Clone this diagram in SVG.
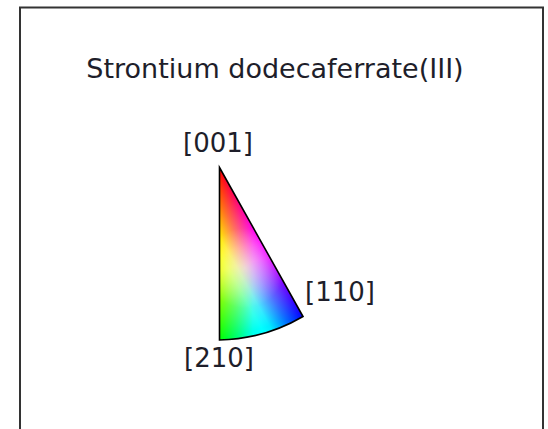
<svg xmlns="http://www.w3.org/2000/svg" width="548" height="429" viewBox="0 0 548 429">
<style>
.t{font-family:"DejaVu Sans","Liberation Sans",sans-serif;fill:#1e1e2a;}
.scr{mix-blend-mode:screen;}
</style>
<defs>
<clipPath id="tri"><path d="M219.5,167.5 L303,316.5 A172,172 0 0 1 219.5,340 Z"/></clipPath>
<linearGradient id="gR" gradientUnits="userSpaceOnUse" x1="264.5" y1="327.3" x2="219.5" y2="167.5">
<stop offset="0" stop-color="#000"/><stop offset="0.2" stop-color="rgb(110,0,0)"/><stop offset="0.4" stop-color="rgb(235,0,0)"/><stop offset="0.5" stop-color="#f00"/><stop offset="1" stop-color="#f00"/>
</linearGradient>
<linearGradient id="gG" gradientUnits="userSpaceOnUse" x1="293.1" y1="298.8" x2="219.5" y2="340">
<stop offset="0" stop-color="#000"/><stop offset="0.2" stop-color="rgb(0,110,0)"/><stop offset="0.4" stop-color="rgb(0,235,0)"/><stop offset="0.5" stop-color="#0f0"/><stop offset="1" stop-color="#0f0"/>
</linearGradient>
<linearGradient id="gB" gradientUnits="userSpaceOnUse" x1="219.5" y1="316.5" x2="303" y2="316.5">
<stop offset="0" stop-color="#000"/><stop offset="0.2" stop-color="rgb(0,0,110)"/><stop offset="0.4" stop-color="rgb(0,0,235)"/><stop offset="0.5" stop-color="#00f"/><stop offset="1" stop-color="#00f"/>
</linearGradient>
<radialGradient id="gW" gradientUnits="userSpaceOnUse" cx="245" cy="268" r="40">
<stop offset="0" stop-color="#fff" stop-opacity="0.45"/><stop offset="1" stop-color="#fff" stop-opacity="0"/>
</radialGradient>
</defs>
<rect id="frame" x="20" y="7.5" width="523" height="440" fill="#fff" stroke="#333" stroke-width="2"/>
<g id="title"><text class="t" x="275" y="78" font-size="27" text-anchor="middle">Strontium dodecaferrate(III)</text></g>
<g id="triangle">
<g clip-path="url(#tri)" style="isolation:isolate">
<rect x="210" y="160" width="100" height="190" fill="#000"/>
<rect class="scr" x="210" y="160" width="100" height="190" fill="url(#gR)"/>
<rect class="scr" x="210" y="160" width="100" height="190" fill="url(#gG)"/>
<rect class="scr" x="210" y="160" width="100" height="190" fill="url(#gB)"/>
<rect class="scr" x="210" y="160" width="100" height="190" fill="url(#gW)"/>
</g>
<path d="M219.5,167.5 L303,316.5 A172,172 0 0 1 219.5,340 Z" fill="none" stroke="#000" stroke-width="1.6" stroke-linejoin="miter"/>
</g>
<g id="labels">
<text class="t" x="218" y="152" font-size="26" text-anchor="middle">[001]</text>
<text class="t" x="305" y="301" font-size="26">[110]</text>
<text class="t" x="219" y="367" font-size="26" text-anchor="middle">[210]</text>
</g>
</svg>
